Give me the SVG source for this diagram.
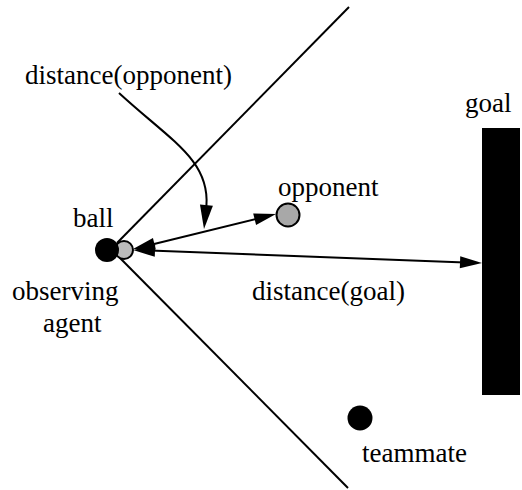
<svg xmlns="http://www.w3.org/2000/svg" width="522" height="490" viewBox="0 0 522 490">
<style>
text{font-size:27px;fill:#000}
.ln{stroke:#000;stroke-width:2;fill:none}
.ah{fill:#000;stroke:none}
</style>
<g id="field-lines">
<line class="ln" x1="117" y1="243" x2="349" y2="7"/>
<line class="ln" x1="118" y1="256" x2="348" y2="488"/>
</g>
<g id="goal">
<rect x="482" y="128" width="38" height="267" fill="#000"/>
<text x="465" y="112" style="font-family:'Liberation Serif'">goal</text>
</g>
<g id="agent">
<circle cx="124" cy="250" r="9" fill="#bbb" stroke="#000" stroke-width="2"/>
<circle cx="107" cy="250" r="12" fill="#000"/>
<text x="73" y="227" style="font-family:'Liberation Serif'">ball</text>
<text x="12" y="300" style="font-family:'Liberation Serif'">observing</text>
<text x="43" y="332" style="font-family:'Liberation Serif'">agent</text>
</g>
<g id="opponent">
<circle cx="288" cy="215" r="11.5" fill="#a8a8a8" stroke="#000" stroke-width="2"/>
<text x="278" y="196" style="font-family:'Liberation Serif'">opponent</text>
</g>
<g id="teammate">
<circle cx="360" cy="418" r="12.5" fill="#000"/>
<text x="362" y="462" style="font-family:'Liberation Serif'">teammate</text>
</g>
<g id="connectors">
<line class="ln" x1="150" y1="245" x2="260" y2="218"/>
<polygon class="ah" points="276,214 256.06,225.06 253.20,213.40"/>
<polygon class="ah" points="133,249 155.80,249.60 152.94,237.94"/>
<line class="ln" x1="150" y1="250.6" x2="465" y2="262.4"/>
<polygon class="ah" points="482,263 459.80,268.18 460.24,256.18"/>
<polygon class="ah" points="133,250 154.76,256.82 155.20,244.82"/>
<path class="ln" d="M119,93 C170,140 210,160 206.4,206"/>
<polygon class="ah" points="204,229 212.90,205.78 199.96,204.46"/>
</g>
<g id="labels">
<text x="25" y="84" style="font-family:'Liberation Serif'">distance(opponent)</text>
<text x="252" y="300" style="font-family:'Liberation Serif'">distance(goal)</text>
</g>
</svg>
